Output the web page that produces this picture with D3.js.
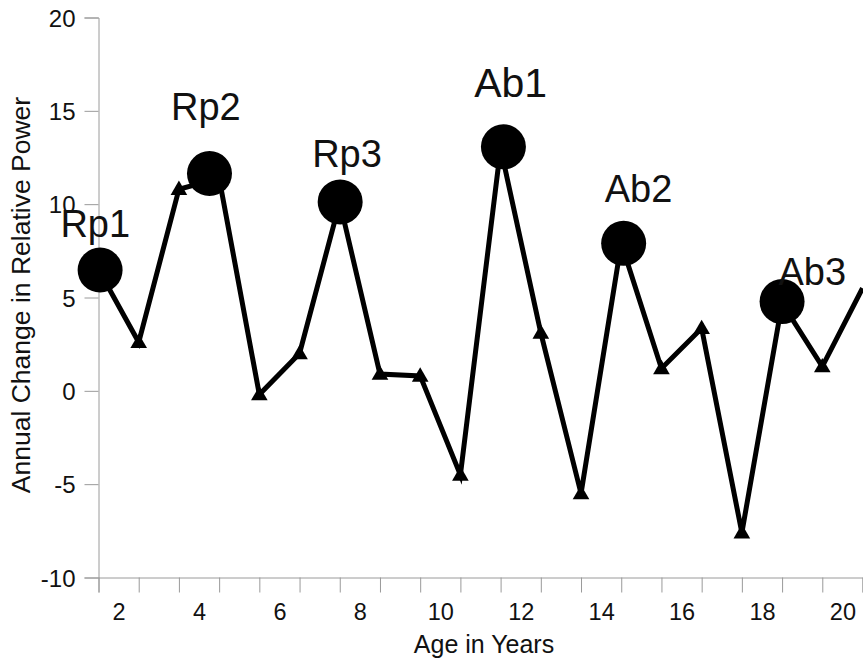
<!DOCTYPE html>
<html>
<head>
<meta charset="utf-8">
<script src="https://cdn.jsdelivr.net/npm/d3@7"></script>
<style>
  body { margin: 0; background: #fff; }
  text { font-family: "Liberation Sans", Arial, sans-serif; fill: #111; }
</style>
</head>
<body>
<svg id="chart" width="863" height="661"></svg>
<script>
// yearly change series (points sit on the category boundaries)
const lineAges = [1.5, 2.5, 3.5, 4.5, 5.5, 6.5, 7.5, 8.5, 9.5, 10.5,
                  11.5, 12.5, 13.5, 14.5, 15.5, 16.5, 17.5, 18.5, 19.5, 20.5];
const lineValues = [6.5, 2.6, 10.8, 11.4, -0.2, 2.0, 10.1, 0.9, 0.8, -4.5,
                    13.0, 3.1, -5.5, 7.9, 1.2, 3.35, -7.6, 4.7, 1.3, 5.5];

// peaks
const peakNames = ["Rp1", "Rp2", "Rp3", "Ab1", "Ab2", "Ab3"];
const peakAges = [1.54, 4.26, 7.51, 11.57, 14.56, 18.5];
const peakValues = [6.47, 11.64, 10.12, 13.07, 7.9, 4.78];
// where the peak names sit (centre / baseline, in chart units)
const labelAges = [1.42, 4.17, 7.68, 11.75, 14.93, 19.25];
const labelValues = [8.24, 14.49, 12.0, 15.74, 10.12, 5.67];

const yTicks = [-10, -5, 0, 5, 10, 15, 20];
const xTickLabels = [2, 4, 6, 8, 10, 12, 14, 16, 18, 20];
const xBoundaries = [1.5, 2.5, 3.5, 4.5, 5.5, 6.5, 7.5, 8.5, 9.5, 10.5,
                     11.5, 12.5, 13.5, 14.5, 15.5, 16.5, 17.5, 18.5, 19.5, 20.5];

const svg = d3.select("#chart");

const x = d3.scaleLinear().domain([1.5, 20.5]).range([98.5, 862.5]);
const y = d3.scaleLinear().domain([-10, 20]).range([577.5, 17.5]);

const axisColor = "#9a9a9a";

// y axis
const gy = svg.append("g")
    .attr("transform", "translate(98.5,0)")
    .call(d3.axisLeft(y).tickValues(yTicks).tickSize(14).tickPadding(9)
        .tickFormat(d => String(d)));
gy.selectAll("text").style("font-size", "24px").attr("dy", "0.36em");

// x axis: boundary ticks
svg.append("g")
    .attr("transform", "translate(0,577.5)")
    .call(d3.axisBottom(x).tickValues(xBoundaries).tickSize(15).tickFormat(""));

// x axis: category labels
const gxl = svg.append("g")
    .attr("transform", "translate(0,577.5)")
    .call(d3.axisBottom(x).tickValues(xTickLabels).tickSize(0).tickPadding(26)
        .tickFormat(d => String(d)));
gxl.select(".domain").remove();
gxl.selectAll("text").style("font-size", "23.5px");

svg.selectAll(".domain, .tick line").attr("stroke", axisColor);
svg.selectAll(".tick text").attr("fill", "#111");

// line
const pts = lineAges.map((a, i) => [a, lineValues[i]]);
svg.append("path")
    .datum(pts)
    .attr("fill", "none")
    .attr("stroke", "#000")
    .attr("stroke-width", 5)
    .attr("stroke-linejoin", "miter")
    .attr("d", d3.line().x(d => x(d[0])).y(d => y(d[1])));

// triangle markers
const tri = d3.symbol().type(d3.symbolTriangle).size(120);
svg.append("g")
    .selectAll("path")
    .data(pts.slice(1, pts.length - 1))
    .enter()
    .append("path")
    .attr("d", tri)
    .attr("fill", "#000")
    .attr("transform", d => `translate(${x(d[0])},${y(d[1]) + 1})`);

// peak circles
svg.append("g")
    .selectAll("circle")
    .data(peakAges)
    .enter()
    .append("circle")
    .attr("cx", d => x(d))
    .attr("cy", (d, i) => y(peakValues[i]))
    .attr("r", 22.5)
    .attr("fill", "#000");

// peak labels
svg.append("g")
    .selectAll("text")
    .data(peakNames)
    .enter()
    .append("text")
    .attr("x", (d, i) => x(labelAges[i]))
    .attr("y", (d, i) => y(labelValues[i]))
    .attr("text-anchor", "middle")
    .style("font-size", d => d === "Ab1" ? "41px" : "38px")
    .text(d => d);

// axis titles
svg.append("text")
    .attr("x", 484)
    .attr("y", 653)
    .attr("text-anchor", "middle")
    .style("font-size", "25px")
    .text("Age in Years");

svg.append("text")
    .attr("transform", "translate(30,295) rotate(-90)")
    .attr("text-anchor", "middle")
    .style("font-size", "26.5px")
    .text("Annual Change in Relative Power");
</script>
</body>
</html>
